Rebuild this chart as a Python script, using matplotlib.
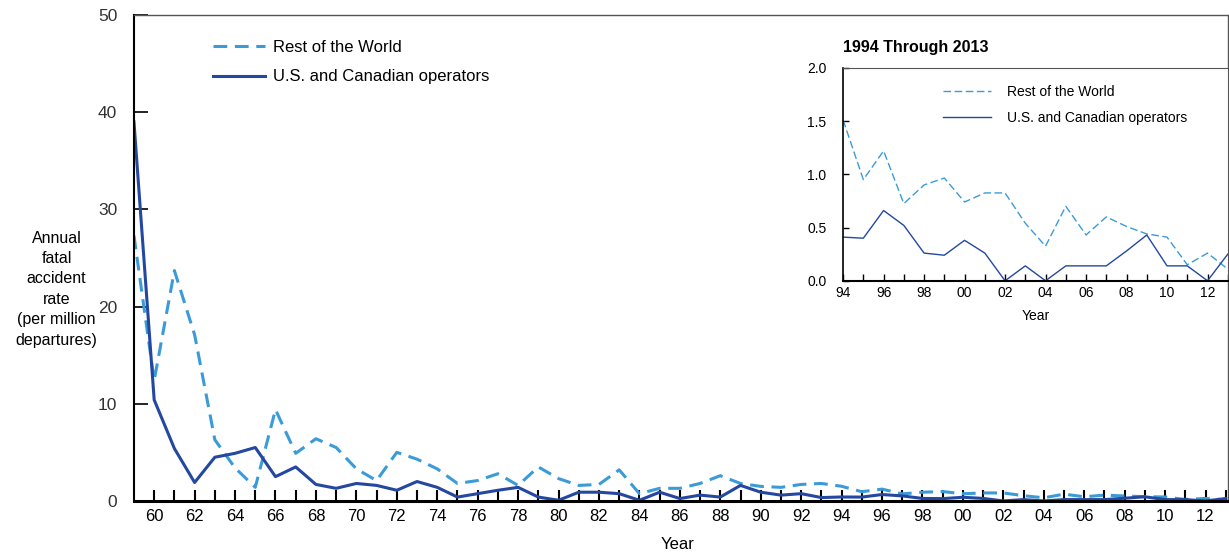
import matplotlib
matplotlib.use("Agg")
import matplotlib.pyplot as plt

plt.rcParams['font.family'] = ['Liberation Sans', 'DejaVu Sans']

# --- data ---
years = list(range(1959, 2014))

rest_of_world = [27.3, 12.4, 23.7, 17.1, 6.3, 3.4, 1.4, 9.4, 4.9, 6.4,
                 5.5, 3.3, 2.1, 5.0, 4.3, 3.3, 1.8, 2.1, 2.8, 1.6,
                 3.5, 2.3, 1.6, 1.7, 3.2, 0.75, 1.3, 1.3, 1.8, 2.6,
                 1.8, 1.5, 1.4, 1.7, 1.8,
                 1.51, 0.95, 1.22, 0.725, 0.90, 0.965, 0.74, 0.825, 0.825, 0.54,
                 0.325, 0.70, 0.43, 0.60, 0.51, 0.44, 0.41, 0.15, 0.26, 0.11]

us_canada = [39.0, 10.4, 5.4, 1.9, 4.5, 4.9, 5.5, 2.5, 3.5, 1.7,
             1.3, 1.8, 1.6, 1.1, 2.0, 1.4, 0.4, 0.75, 1.1, 1.4,
             0.4, 0.07, 0.9, 0.9, 0.75, 0.07, 0.9, 0.25, 0.6, 0.4,
             1.6, 0.9, 0.6, 0.75, 0.35,
             0.41, 0.40, 0.66, 0.52, 0.26, 0.24, 0.38, 0.26, 0.0, 0.14,
             0.0, 0.14, 0.14, 0.14, 0.28, 0.43, 0.14, 0.14, 0.0, 0.25]

inset_start = 1994
main_yticks = [0, 10, 20, 30, 40, 50]
inset_yticks = [0.0, 0.5, 1.0, 1.5, 2.0]

light_blue = '#3b9bd8'
dark_blue = '#2447a0'

fig = plt.figure(figsize=(12.29, 5.56), dpi=100)

# --- main chart ---
ax = fig.add_axes([0.109, 0.099, 0.89, 0.874])
ax.plot(years, rest_of_world, color=light_blue, lw=2.2, dashes=(4.5, 2.5),
        label='Rest of the World')
ax.plot(years, us_canada, color=dark_blue, lw=2.2, label='U.S. and Canadian operators')
ax.set_xlim(1959, 2013.1)
ax.set_ylim(0, 50)
ax.set_yticks(main_yticks)
ax.set_yticklabels([str(v) for v in main_yticks])
ax.set_xticks(list(range(1960, 2014, 2)))
ax.set_xticklabels(['%02d' % (y % 100) for y in range(1960, 2014, 2)])
ax.set_xticks(list(range(1960, 2014)), minor=True)
ax.tick_params(axis='x', which='both', direction='in', length=8, width=1.5,
               labelsize=12, pad=6, colors='black')
ax.tick_params(axis='y', direction='in', length=10, width=1.2, labelsize=12.5,
               pad=12, labelcolor='#333333')
for s in ['top', 'right']:
    ax.spines[s].set_color('#555555')
    ax.spines[s].set_linewidth(1)
ax.spines['left'].set_linewidth(1.5)
ax.spines['bottom'].set_linewidth(2.2)
ax.legend(loc='upper left', bbox_to_anchor=(0.059, 0.979), frameon=False,
          fontsize=12, handlelength=3.1, handletextpad=0.5, labelspacing=0.85)
fig.text(0.046, 0.48, 'Annual\nfatal\naccident\nrate\n(per million\ndepartures)',
         ha='center', va='center', fontsize=11.5, linespacing=1.45)
fig.text(0.551, 0.02, 'Year', ha='center', va='center', fontsize=12)

# --- inset ---
i0 = years.index(inset_start)
ins = fig.add_axes([0.686, 0.495, 0.313, 0.383])
ins.set_facecolor('white')
ins.plot(years[i0:], rest_of_world[i0:], color=light_blue, lw=1.0, dashes=(5.5, 2.5),
         label='Rest of the World')
ins.plot(years[i0:], us_canada[i0:], color=dark_blue, lw=1.0,
         label='U.S. and Canadian operators')
ins.set_xlim(1994, 2012.9)
ins.set_ylim(0, 2.0)
ins.set_yticks(inset_yticks)
ins.set_yticklabels(['%.1f' % v for v in inset_yticks])
ins.set_xticks(list(range(1994, 2014, 2)))
ins.set_xticklabels(['%02d' % (y % 100) for y in range(1994, 2014, 2)])
ins.set_xticks(list(range(1994, 2014)), minor=True)
ins.tick_params(axis='x', which='both', direction='in', length=5, width=1,
                labelsize=10, pad=4)
ins.tick_params(axis='y', direction='in', length=4, width=1, labelsize=10, pad=12)
for s in ['top', 'right']:
    ins.spines[s].set_color('#555555')
    ins.spines[s].set_linewidth(0.8)
ins.spines['left'].set_linewidth(1.2)
ins.spines['bottom'].set_linewidth(1.5)
ins.legend(loc='upper left', bbox_to_anchor=(0.228, 0.98), frameon=False,
           fontsize=10, handlelength=3.4, handletextpad=1.2, labelspacing=0.9)
ins.set_xlabel('Year', fontsize=10, labelpad=6)
fig.text(0.686, 0.915, '1994 Through 2013', ha='left', va='center',
         fontsize=11.5, fontweight='bold')

fig.savefig('out.png', dpi=100)
